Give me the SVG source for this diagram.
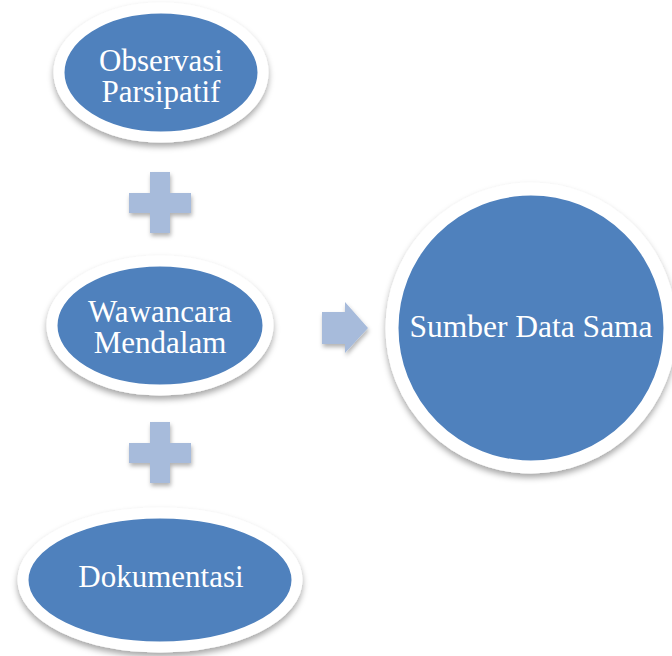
<svg xmlns="http://www.w3.org/2000/svg" width="672" height="656" viewBox="0 0 672 656">
  <defs>
    <filter id="sh" x="-20%" y="-20%" width="140%" height="150%">
      <feDropShadow dx="0" dy="4" stdDeviation="3" flood-color="#000" flood-opacity="0.35"/>
    </filter>
    <filter id="sh2" x="-20%" y="-20%" width="140%" height="150%">
      <feDropShadow dx="1" dy="3" stdDeviation="2" flood-color="#000" flood-opacity="0.3"/>
    </filter>
  </defs>
  <style>
    .node { fill: #4f81bd; stroke: #ffffff; stroke-width: 11; filter: url(#sh); }
    .lbl { font-family: "Liberation Serif", "Times New Roman", serif; font-size: 31px; fill: #ffffff; text-anchor: middle; }
    .op { fill: #a7bbdb; filter: url(#sh2); }
  </style>
  <rect width="672" height="656" fill="#ffffff"/>

  <g id="connectors">
    <path class="op" d="M150,172 H170 V193 H191 V213 H170 V233 H150 V213 H129 V193 H150 Z"/>
    <path class="op" d="M150,422 H170 V443 H191 V463 H170 V483 H150 V463 H129 V443 H150 Z"/>
    <path class="op" d="M322,312 H345 V302 L368,328 L345,353 V344 H322 Z"/>
  </g>

  <g id="observasi">
    <ellipse class="node" cx="161" cy="72.5" rx="102" ry="64.5"/>
    <text class="lbl" x="161" y="71">Observasi</text>
    <text class="lbl" x="161" y="102">Parsipatif</text>
  </g>

  <g id="wawancara">
    <ellipse class="node" cx="160" cy="325.5" rx="108" ry="64.5"/>
    <text class="lbl" x="160" y="322">Wawancara</text>
    <text class="lbl" x="160" y="353">Mendalam</text>
  </g>

  <g id="dokumentasi">
    <ellipse class="node" cx="160" cy="580" rx="137" ry="67"/>
    <text class="lbl" x="161" y="587">Dokumentasi</text>
  </g>

  <g id="sumber">
    <circle class="node" cx="531" cy="328" r="139" style="stroke-width:13"/>
    <text class="lbl" x="531" y="337" style="font-size:31.5px">Sumber Data Sama</text>
  </g>
</svg>
